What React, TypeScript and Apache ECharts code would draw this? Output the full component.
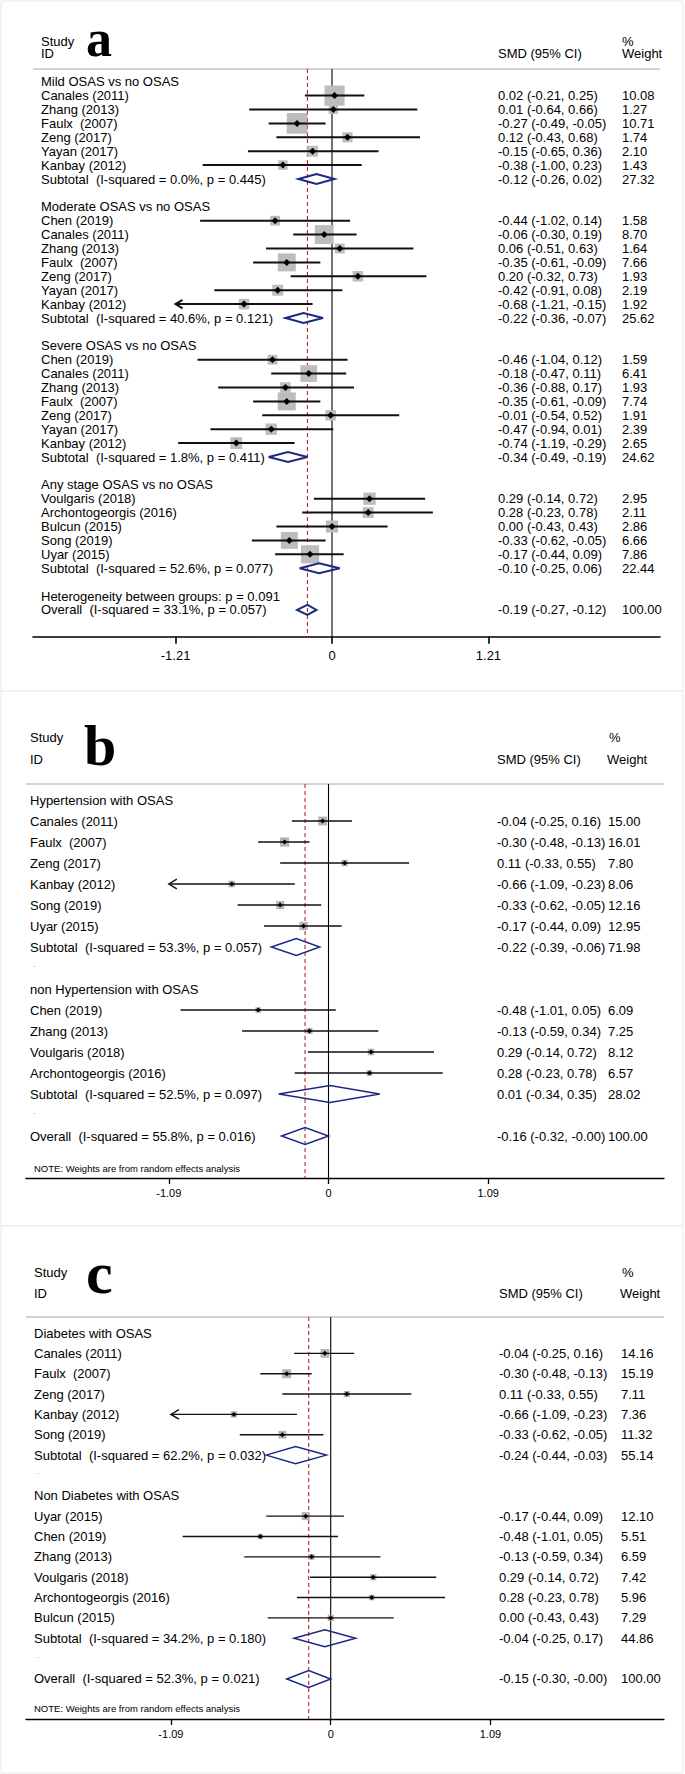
import React, { useEffect, useRef } from "react";
import * as echarts from "echarts";

const FONT = "'Liberation Sans', Arial, Helvetica, sans-serif";
const SERIF = "'Liberation Serif', 'Times New Roman', serif";
const NB = "\u00a0 ";

// ---------------- Panel a ----------------
const aLabels = [
  "Mild OSAS vs no OSAS", "Canales (2011)", "Zhang (2013)", "Faulx" + NB + "(2007)", "Zeng (2017)", "Yayan (2017)", "Kanbay (2012)",
  "Subtotal" + NB + "(I-squared = 0.0%, p = 0.445)", "",
  "Moderate OSAS vs no OSAS", "Chen (2019)", "Canales (2011)", "Zhang (2013)", "Faulx" + NB + "(2007)", "Zeng (2017)", "Yayan (2017)", "Kanbay (2012)",
  "Subtotal" + NB + "(I-squared = 40.6%, p = 0.121)", "",
  "Severe OSAS vs no OSAS", "Chen (2019)", "Canales (2011)", "Zhang (2013)", "Faulx" + NB + "(2007)", "Zeng (2017)", "Yayan (2017)", "Kanbay (2012)",
  "Subtotal" + NB + "(I-squared = 1.8%, p = 0.411)", "",
  "Any stage OSAS vs no OSAS", "Voulgaris (2018)", "Archontogeorgis (2016)", "Bulcun (2015)", "Song (2019)", "Uyar (2015)",
  "Subtotal" + NB + "(I-squared = 52.6%, p = 0.077)", "",
  "Heterogeneity between groups: p = 0.091", "Overall" + NB + "(I-squared = 33.1%, p = 0.057)",
];
const aKinds = "h s s s s s s t b h s s s s s s s t b h s s s s s s s t b h s s s s s t b n o".split(" ");
const aEst = [null, 0.02, 0.01, -0.27, 0.12, -0.15, -0.38, -0.12, null, null, -0.44, -0.06, 0.06, -0.35, 0.2, -0.42, -0.68, -0.22, null, null, -0.46, -0.18, -0.36, -0.35, -0.01, -0.47, -0.74, -0.34, null, null, 0.29, 0.28, 0.0, -0.33, -0.17, -0.1, null, null, -0.19];
const aLo = [null, -0.21, -0.64, -0.49, -0.43, -0.65, -1.0, -0.26, null, null, -1.02, -0.3, -0.51, -0.61, -0.32, -0.91, -1.21, -0.36, null, null, -1.04, -0.47, -0.88, -0.61, -0.54, -0.94, -1.19, -0.49, null, null, -0.14, -0.23, -0.43, -0.62, -0.44, -0.25, null, null, -0.27];
const aHi = [null, 0.25, 0.66, -0.05, 0.68, 0.36, 0.23, 0.02, null, null, 0.14, 0.19, 0.63, -0.09, 0.73, 0.08, -0.15, -0.07, null, null, 0.12, 0.11, 0.17, -0.09, 0.52, 0.01, -0.29, -0.19, null, null, 0.72, 0.78, 0.43, -0.05, 0.09, 0.06, null, null, -0.12];
const aWeight = [null, 10.08, 1.27, 10.71, 1.74, 2.1, 1.43, 27.32, null, null, 1.58, 8.7, 1.64, 7.66, 1.93, 2.19, 1.92, 25.62, null, null, 1.59, 6.41, 1.93, 7.74, 1.91, 2.39, 2.65, 24.62, null, null, 2.95, 2.11, 2.86, 6.66, 7.86, 22.44, null, null, 100.0];
const aTicks = [-1.21, 0, 1.21];

// ---------------- Panel b ----------------
const bLabels = [
  "Hypertension with OSAS", "Canales (2011)", "Faulx" + NB + "(2007)", "Zeng (2017)", "Kanbay (2012)", "Song (2019)", "Uyar (2015)",
  "Subtotal" + NB + "(I-squared = 53.3%, p = 0.057)", ".",
  "non Hypertension with OSAS", "Chen (2019)", "Zhang (2013)", "Voulgaris (2018)", "Archontogeorgis (2016)",
  "Subtotal" + NB + "(I-squared = 52.5%, p = 0.097)", ".",
  "Overall" + NB + "(I-squared = 55.8%, p = 0.016)",
];
const bKinds = "h s s s s s s t d h s s s s t d o".split(" ");
const bEst = [null, -0.04, -0.3, 0.11, -0.66, -0.33, -0.17, -0.22, null, null, -0.48, -0.13, 0.29, 0.28, 0.01, null, -0.16];
const bLo = [null, -0.25, -0.48, -0.33, -1.09, -0.62, -0.44, -0.39, null, null, -1.01, -0.59, -0.14, -0.23, -0.34, null, -0.32];
const bHi = [null, 0.16, -0.13, 0.55, -0.23, -0.05, 0.09, -0.06, null, null, 0.05, 0.34, 0.72, 0.78, 0.35, null, -0.0];
const bWeight = [null, 15.0, 16.01, 7.8, 8.06, 12.16, 12.95, 71.98, null, null, 6.09, 7.25, 8.12, 6.57, 28.02, null, 100.0];
const bTicks = [-1.09, 0, 1.09];

// ---------------- Panel c ----------------
const cLabels = [
  "Diabetes with OSAS", "Canales (2011)", "Faulx" + NB + "(2007)", "Zeng (2017)", "Kanbay (2012)", "Song (2019)",
  "Subtotal" + NB + "(I-squared = 62.2%, p = 0.032)", ".",
  "Non Diabetes with OSAS", "Uyar (2015)", "Chen (2019)", "Zhang (2013)", "Voulgaris (2018)", "Archontogeorgis (2016)", "Bulcun (2015)",
  "Subtotal" + NB + "(I-squared = 34.2%, p = 0.180)", ".",
  "Overall" + NB + "(I-squared = 52.3%, p = 0.021)",
];
const cKinds = "h s s s s s t d h s s s s s s t d o".split(" ");
const cEst = [null, -0.04, -0.3, 0.11, -0.66, -0.33, -0.24, null, null, -0.17, -0.48, -0.13, 0.29, 0.28, 0.0, -0.04, null, -0.15];
const cLo = [null, -0.25, -0.48, -0.33, -1.09, -0.62, -0.44, null, null, -0.44, -1.01, -0.59, -0.14, -0.23, -0.43, -0.25, null, -0.3];
const cHi = [null, 0.16, -0.13, 0.55, -0.23, -0.05, -0.03, null, null, 0.09, 0.05, 0.34, 0.72, 0.78, 0.43, 0.17, null, -0.0];
const cWeight = [null, 14.16, 15.19, 7.11, 7.36, 11.32, 55.14, null, null, 12.1, 5.51, 6.59, 7.42, 5.96, 7.29, 44.86, null, 100.0];
const cTicks = [-1.09, 0, 1.09];

const NOTE = "NOTE: Weights are from random effects analysis";

function fmt(v: number): string {
  const neg = v < 0 || Object.is(v, -0);
  return (neg ? "-" : "") + Math.abs(v).toFixed(2);
}

const panels = [
  {
    letter: "a", labels: aLabels, kinds: aKinds, est: aEst, lo: aLo, hi: aHi, w: aWeight, ticks: aTicks,
    L: {
      frameY: 1, frameH: 690, letterSize: 52, letterX: 86, letterY: 38.5,
      studyY: 41, idY: 53, headX: 41, smdX: 498, pctX: 622, weightX: 622,
      sepY: 69, left: 33, right: 660, axisY: 636.7, zeroX: 332, ppu: 129.3, row0: 81.7, rowH: 13.9,
      labelX: 41, ciX: 498, wX: 622, tickFont: 13, tickMargin: 12, tickLen: 7, axisW: 1.6,
      note: null as null | number, noteX: 34,
      sqBase: 3, sqK: 5.4, dia: 5, diaW: 2, pt: 3.5, ciW: 2, arrow: 7, sqColor: "#bdbdbd",
    },
  },
  {
    letter: "b", labels: bLabels, kinds: bKinds, est: bEst, lo: bLo, hi: bHi, w: bWeight, ticks: bTicks,
    L: {
      frameY: 691, frameH: 535, letterSize: 58, letterX: 84, letterY: 745.5,
      studyY: 737, idY: 759, headX: 30, smdX: 497, pctX: 609, weightX: 607,
      sepY: 784, left: 26, right: 664, axisY: 1178, zeroX: 328.5, ppu: 146.5, row0: 800, rowH: 21,
      labelX: 30, ciX: 497, wX: 608, tickFont: 11, tickMargin: 9, tickLen: 6, axisW: 1.3,
      note: 1168 as null | number, noteX: 34,
      sqBase: 0, sqK: 2.3, dia: 8.5, diaW: 1.5, pt: 2.5, ciW: 1.4, arrow: 8, sqColor: "#b5b5b5",
    },
  },
  {
    letter: "c", labels: cLabels, kinds: cKinds, est: cEst, lo: cLo, hi: cHi, w: cWeight, ticks: cTicks,
    L: {
      frameY: 1226, frameH: 547, letterSize: 60, letterX: 86, letterY: 1273,
      studyY: 1272, idY: 1293, headX: 34, smdX: 499, pctX: 622, weightX: 620,
      sepY: 1317, left: 26, right: 664, axisY: 1719, zeroX: 330.7, ppu: 146.6, row0: 1333, rowH: 20.35,
      labelX: 34, ciX: 499, wX: 621, tickFont: 11, tickMargin: 9, tickLen: 6, axisW: 1.3,
      note: 1708 as null | number, noteX: 34,
      sqBase: 0, sqK: 2.3, dia: 8.5, diaW: 1.5, pt: 2.5, ciW: 1.4, arrow: 8, sqColor: "#b5b5b5",
    },
  },
];

function txt(x: number, y: number, text: string, size: number, extra: any = {}) {
  return {
    type: "text", x, y, silent: true,
    style: { text, fill: "#000", fontSize: size, fontFamily: FONT, align: "left", verticalAlign: "middle", ...extra },
  };
}

function buildOption() {
  const grid: any[] = [];
  const xAxis: any[] = [];
  const yAxis: any[] = [];
  const series: any[] = [];
  const graphics: any[] = [];

  panels.forEach((p, i) => {
    const L = p.L;
    // frame
    graphics.push({
      type: "rect", z: -10, silent: true,
      shape: { x: 1, y: L.frameY, width: 682, height: L.frameH },
      style: { fill: "#fff", stroke: "#e4eaec", lineWidth: 1 },
    });
    // header
    graphics.push(txt(L.headX, L.studyY, "Study", 13));
    graphics.push(txt(L.headX, L.idY, "ID", 13));
    graphics.push(txt(L.smdX, L.idY, "SMD (95% CI)", 13));
    graphics.push(txt(L.pctX, L.studyY, "%", 13));
    graphics.push(txt(L.weightX, L.idY, "Weight", 13));
    graphics.push({
      type: "text", x: L.letterX, y: L.letterY, silent: true,
      style: { text: p.letter, fill: "#000", fontSize: L.letterSize, fontWeight: "bold", fontFamily: SERIF, align: "left", verticalAlign: "middle" },
    });
    graphics.push({
      type: "line", silent: true,
      shape: { x1: L.left, y1: L.sepY, x2: L.right, y2: L.sepY },
      style: { stroke: "#c4c4c4", lineWidth: 1.5 },
    });
    if (L.note !== null) graphics.push(txt(L.noteX, L.note, NOTE, 9.5));

    grid.push({
      left: L.left, top: L.sepY, width: L.right - L.left, height: L.axisY - L.sepY,
      containLabel: false, outerBoundsMode: "none",
    });
    xAxis.push({
      type: "value", gridIndex: i,
      min: (L.left - L.zeroX) / L.ppu, max: (L.right - L.zeroX) / L.ppu,
      axisLine: { show: true, onZero: false, lineStyle: { color: "#000", width: L.axisW } },
      axisTick: { show: true, customValues: p.ticks, length: L.tickLen, lineStyle: { color: "#000", width: L.axisW } },
      axisLabel: {
        show: true, customValues: p.ticks, color: "#000", fontSize: L.tickFont, fontFamily: FONT, margin: L.tickMargin,
        formatter: (v: number) => (v === 0 ? "0" : v.toFixed(2)),
      },
      splitLine: { show: false },
    });
    yAxis.push({
      type: "value", gridIndex: i, inverse: true, show: false,
      min: (L.sepY - L.row0) / L.rowH, max: (L.axisY - L.row0) / L.rowH,
    });

    const overallIdx = p.kinds.indexOf("o");
    const overall = p.est[overallIdx] as number;

    // reference lines: zero line and overall estimate
    series.push({
      type: "custom", xAxisIndex: i, yAxisIndex: i, clip: false, silent: true, z: 2,
      data: [[0, 0, 0], [overall, 0, 1]],
      renderItem: (params: any, api: any) => {
        const x = api.coord([api.value(0), 0])[0];
        const cs = params.coordSys;
        const isRef = api.value(2) === 1;
        return {
          type: "line",
          shape: { x1: x, y1: cs.y, x2: x, y2: cs.y + cs.height },
          style: isRef
            ? { stroke: "#b8262b", lineWidth: 1.1, lineDash: [4, 3] }
            : { stroke: "#000", lineWidth: 1.1 },
        };
      },
    });

    // marks
    const markData: number[][] = [];
    p.kinds.forEach((k, r) => {
      if (k === "s" || k === "t" || k === "o") {
        markData.push([p.est[r] as number, r, p.lo[r] as number, p.hi[r] as number, p.w[r] as number, k === "s" ? 0 : 1]);
      }
    });
    const arrowLimit = -p.ticks[2];
    series.push({
      type: "custom", xAxisIndex: i, yAxisIndex: i, clip: false, silent: true, z: 3,
      data: markData,
      renderItem: (params: any, api: any) => {
        const est = api.value(0), row = api.value(1), lo = api.value(2), hi = api.value(3), w = api.value(4), k = api.value(5);
        const c = api.coord([est, row]);
        const cx = c[0], cy = c[1];
        const xl = api.coord([lo, row])[0];
        const xh = api.coord([hi, row])[0];
        if (k === 1) {
          return {
            type: "polygon",
            shape: { points: [[xl, cy], [cx, cy - L.dia], [xh, cy], [cx, cy + L.dia]] },
            style: { fill: "none", stroke: "#1b2a80", lineWidth: L.diaW, lineJoin: "miter" },
          };
        }
        const s = L.sqBase + L.sqK * Math.sqrt(w);
        const children: any[] = [
          { type: "rect", shape: { x: cx - s / 2, y: cy - s / 2, width: s, height: s }, style: { fill: L.sqColor } },
          { type: "line", shape: { x1: xl, y1: cy, x2: xh, y2: cy }, style: { stroke: "#111", lineWidth: L.ciW } },
          {
            type: "polygon",
            shape: { points: [[cx - L.pt, cy], [cx, cy - L.pt], [cx + L.pt, cy], [cx, cy + L.pt]] },
            style: { fill: "#000" },
          },
        ];
        if (lo <= arrowLimit + 1e-9) {
          children.push({
            type: "polyline",
            shape: { points: [[xl + L.arrow, cy - L.arrow * 0.6], [xl, cy], [xl + L.arrow, cy + L.arrow * 0.6]] },
            style: { stroke: "#111", lineWidth: L.ciW, fill: "none" },
          });
        }
        return { type: "group", children };
      },
    });

    // text columns
    series.push({
      type: "custom", xAxisIndex: i, yAxisIndex: i, clip: false, silent: true, z: 4,
      data: p.labels.map((_, r) => [0, r]),
      renderItem: (params: any, api: any) => {
        const r = params.dataIndex;
        const k = p.kinds[r];
        const cy = api.coord([0, api.value(1)])[1];
        const children: any[] = [];
        if (k === "d") {
          children.push(txt(L.labelX + 3, cy - 4, ".", 9, { fill: "#9a9a9a" }));
        } else if (k !== "b") {
          children.push(txt(L.labelX, cy, p.labels[r], 13));
        }
        if (k === "s" || k === "t" || k === "o") {
          const ci = fmt(p.est[r] as number) + " (" + fmt(p.lo[r] as number) + ", " + fmt(p.hi[r] as number) + ")";
          children.push(txt(L.ciX, cy, ci, 13));
          children.push(txt(L.wX, cy, (p.w[r] as number).toFixed(2), 13));
        }
        return { type: "group", children };
      },
    });
  });

  return {
    animation: false,
    backgroundColor: "#ffffff",
    textStyle: { fontFamily: FONT },
    grid, xAxis, yAxis, series,
    graphic: { elements: graphics },
  };
}

export default function App() {
  const ref = useRef<HTMLDivElement>(null);
  useEffect(() => {
    document.body.style.margin = "0";
    if (!ref.current) return;
    const chart = echarts.init(ref.current, undefined, { renderer: "svg" });
    chart.setOption(buildOption() as any);
    return () => chart.dispose();
  }, []);
  return <div ref={ref} style={{ width: 685, height: 1774, position: "absolute", left: 0, top: 0 }} />;
}
